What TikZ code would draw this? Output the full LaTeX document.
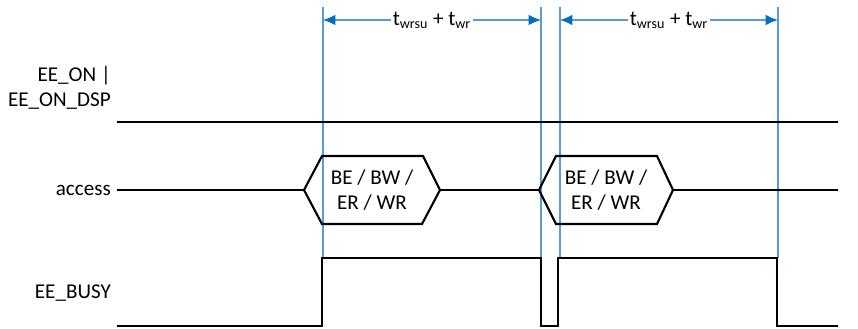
\documentclass[tikz,border=0pt]{standalone}
\usepackage{fontspec}
\setmainfont{Carlito}
\usepackage{tikz}
\usetikzlibrary{positioning, arrows.meta}
\definecolor{guide}{RGB}{91,155,213}
\definecolor{guidedark}{RGB}{0,112,192}
\tikzset{
  wave/.style={draw=black, line width=1.2pt},
  guideline/.style={draw=guide, line width=0.7pt},
  span/.style={
    {Latex[length=7pt,width=6pt,color=guidedark]}-{Latex[length=7pt,width=6pt,color=guidedark]},
    guide, line width=0.7pt
  },
  signame/.style={anchor=east, align=right, font=\fontsize{12}{14.4}\selectfont},
  spanlabel/.style={fill=white, text=black, inner sep=1pt, font=\fontsize{12}{14.4}\selectfont},
  oplabel/.style={align=center, font=\fontsize{12}{14.4}\selectfont}
}

\begin{document}
\begin{tikzpicture}[x=0.02cm, y=-0.02cm]
  \useasboundingbox (0,0) rectangle (858,328);

  % signal names
  \node[signame] (on) at (117,88) {EE\_ON |\\EE\_ON\_DSP};
  \node[signame] (acc) at (117,190) {access};
  \node[signame] (busy) at (117,293) {EE\_BUSY};

  % guide lines
  \coordinate (g1) at (323,7);
  \coordinate (g2) at (541,7);
  \coordinate (g3) at (560,7);
  \coordinate (g4) at (778,7);
  \foreach \g in {g1,g2,g3,g4}
    \draw[guideline] (\g) -- (\g |- 0,258);

  % timing spans
  \coordinate (s1) at (323,20);
  \coordinate (s2) at (541,20);
  \coordinate (s3) at (560,20);
  \coordinate (s4) at (778,20);
  \draw[span] (s1) -- node[spanlabel] (t1) {t\textsubscript{wrsu} + t\textsubscript{wr}} (s2);
  \draw[span] (s3) -- node[spanlabel] (t2) {t\textsubscript{wrsu} + t\textsubscript{wr}} (s4);

  % EE_ON | EE_ON_DSP
  \draw[wave] (117,122) -- (838,122);

  % access
  \node[oplabel] (op1) at (372,190) {BE / BW /\\ER / WR};
  \node[oplabel] (op2) at (606,190) {BE / BW /\\ER / WR};
  \draw[wave] (acc.east) -- (304,190);
  \draw[wave] (304,190) -- (322,156) -- (423,156) -- (440,190) -- (422,224) -- (322,224) -- cycle;
  \draw[wave] (440,190) -- (539,190);
  \draw[wave] (539,190) -- (556,156) -- (657,156) -- (673,190) -- (657,224) -- (556,224) -- cycle;
  \draw[wave] (673,190) -- (838,190);

  % EE_BUSY
  \draw[wave] (117,326) -- (322,326) -- (322,258) -- (541,258) -- (541,326)
    -- (558,326) -- (558,258) -- (777,258) -- (777,326) -- (838,326);
\end{tikzpicture}
\end{document}
